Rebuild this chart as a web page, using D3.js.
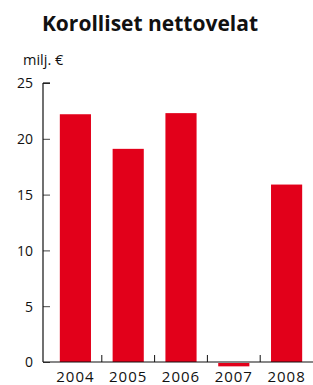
<!DOCTYPE html>
<html><head><meta charset="utf-8">
<script src="https://cdn.jsdelivr.net/npm/d3@7"></script>
<style>body{margin:0;background:#fff}svg{display:block}</style>
</head><body><svg id="c" width="313" height="385"></svg>
<script>
const categories = ["2004","2005","2006","2007","2008"];
const values = [22.2, 19.1, 22.3, -0.3, 15.9];
const yTicks = [0,5,10,15,20,25];
const title = "Korolliset nettovelat";
const unit = "milj. €";

const svg = d3.select("#c");
const font = "'Open Sans', sans-serif";
const x = d3.scaleBand().domain(categories).range([49, 313]).paddingInner(0.41).paddingOuter(0.205);
const y = d3.scaleLinear().domain([0,25]).range([362, 83]);
const axisX = 43;

svg.append("text").attr("x", 150).attr("y", 31).attr("text-anchor","middle")
  .attr("font-family", font).attr("font-weight","bold").attr("font-size", 21).attr("fill","#111").text(title);
svg.append("text").attr("x", 23).attr("y", 65).attr("font-family", font).attr("font-size", 14.5).attr("fill","#111").text(unit);

// bars
svg.selectAll("rect.bar").data(values).join("rect").attr("class","bar")
  .attr("x",(d,i)=>x(categories[i])).attr("width",x.bandwidth())
  .attr("y",d=>d>=0?y(d):y(0)+1).attr("height",d=>Math.abs(y(d)-y(0)))
  .attr("fill","#e2001a");

// y axis
const ya = d3.axisLeft(y).tickValues(yTicks).tickSize(-7).tickPadding(10);
const g = svg.append("g").attr("transform",`translate(${axisX},0)`).call(ya);
g.select(".domain").remove();
g.selectAll(".tick line").attr("stroke","#444");
g.selectAll(".tick text").attr("font-family",font).attr("font-size",14).attr("fill","#111").attr("x",-10).attr("dy","0.35em");
svg.append("line").attr("x1",axisX).attr("x2",axisX).attr("y1",y(25)).attr("y2",y(0)).attr("stroke","#111").attr("stroke-width",1.2);
svg.append("line").attr("x1",axisX).attr("x2",axisX+7).attr("y1",y(25)).attr("y2",y(25)).attr("stroke","#111").attr("stroke-width",1.2);
// x axis
svg.append("line").attr("x1",axisX).attr("x2",313).attr("y1",y(0)).attr("y2",y(0)).attr("stroke","#111").attr("stroke-width",1.2);
const step = x.step();
categories.slice(1).forEach(c=>{
  const bx = x(c) - (step - x.bandwidth())/2;
  svg.append("line").attr("x1",bx).attr("x2",bx).attr("y1",y(0)).attr("y2",y(0)-7).attr("stroke","#111");
});
svg.selectAll("text.xl").data(categories).join("text").attr("class","xl")
  .attr("x",d=>x(d)+x.bandwidth()/2).attr("y",382).attr("text-anchor","middle")
  .attr("font-family",font).attr("font-size",15).attr("letter-spacing",1).attr("fill","#111").text(d=>d);
</script></body></html>
